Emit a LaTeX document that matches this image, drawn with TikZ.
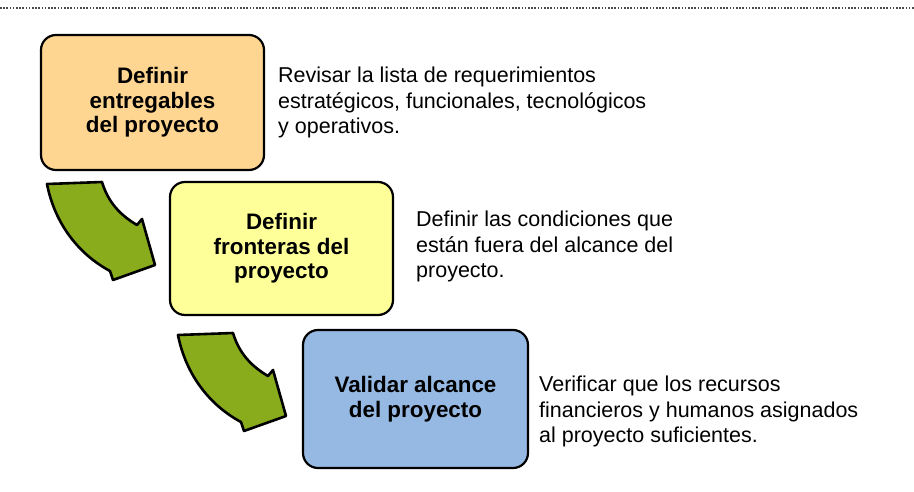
\documentclass[tikz,border=0pt]{standalone}
\usepackage{fontspec}
\setmainfont{Liberation Sans}
\usetikzlibrary{positioning}
\definecolor{ofill}{RGB}{255,214,145}
\definecolor{yfill}{RGB}{255,255,153}
\definecolor{bfill}{RGB}{149,185,226}
\definecolor{gfill}{RGB}{137,172,29}

\begin{document}
\begin{tikzpicture}[
  x=1pt, y=-1pt,
  box/.style={draw, rounded corners=15pt, line width=2.2pt, align=center,
              font=\bfseries\fontsize{22.4}{24.5}\selectfont,
              minimum width=223pt, minimum height=135pt},
  note/.style={anchor=north west, align=left, inner sep=0pt,
               font=\fontsize{21.5}{25.5}\selectfont},
  bendarrow/.style={fill=gfill, draw=black, line width=2.6pt, line join=round},
]
\useasboundingbox (0,0) rectangle (914,491);
\draw[line width=1.3pt, dash pattern=on 1.6pt off 1.6pt, black!70] (0,8) -- (914,8);

\node[box, fill=ofill] (ent) at (152.5,102.5) {Definir\\entregables\\del proyecto};
\node[box, fill=yfill, minimum height=133pt] (fro) at (281.5,248.5) {Definir\\fronteras del\\proyecto};
\node[box, fill=bfill, minimum width=225pt, minimum height=138pt] (val) at (415.5,399) {Validar alcance\\del proyecto};

\node[note] (ent-txt) at (278,67) {Revisar la lista de requerimientos\\estratégicos, funcionales, tecnológicos\\y operativos.};
\node[note] (fro-txt) at (416,211) {Definir las condiciones que\\están fuera del alcance del\\proyecto.};
\node[note] (val-txt) at (539,376) {Verificar que los recursos\\financieros y humanos asignados\\al proyecto suficientes.};

% curved arrows between the steps
\foreach \dx/\dy in {0/0, 131/151}
  \draw[bendarrow, shift={(\dx,\dy)}] (47,184) -- (102,182)
    .. controls (108,202) and (120,215) .. (137,225) -- (142,219) -- (155,265)
    -- (113,280) -- (110,271) .. controls (80,255) and (55,225) .. cycle;
\end{tikzpicture}
\end{document}
